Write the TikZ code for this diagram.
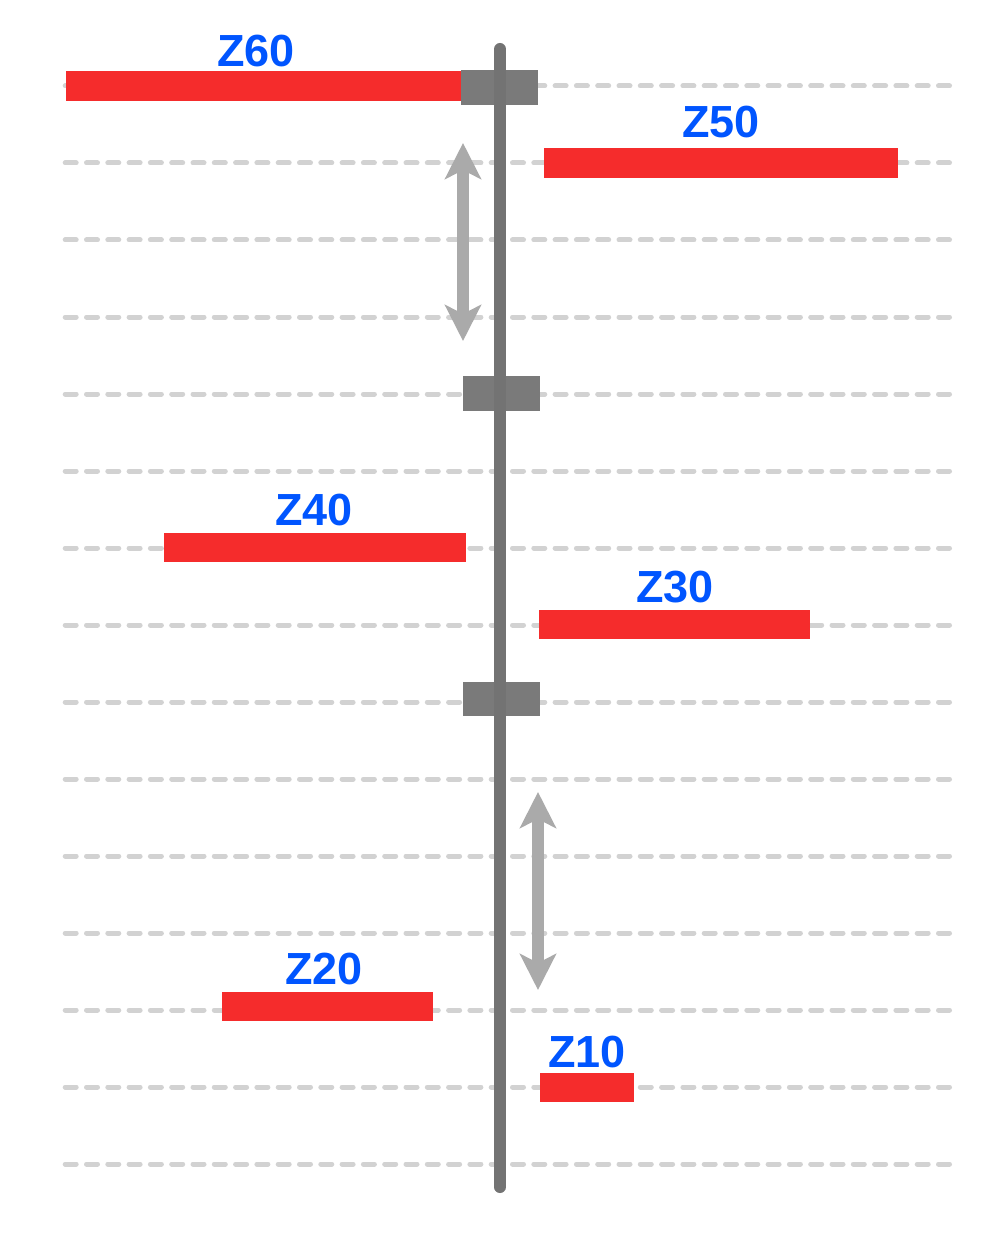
\documentclass[tikz,border=0pt]{standalone}
\usepackage{fontspec}
\setmainfont{Liberation Sans}
\usetikzlibrary{arrows.meta}
\definecolor{gridgray}{HTML}{D2D2D2}
\definecolor{polegray}{HTML}{737373}
\definecolor{blockgray}{HTML}{7A7A7A}
\definecolor{arrowgray}{HTML}{AAAAAA}
\definecolor{barred}{HTML}{F52C2C}
\definecolor{labelblue}{HTML}{0055FF}
\tikzset{
  gridline/.style={draw=gridgray, line width=5pt, line cap=round, dash pattern=on 11pt off 10.3pt},
  redbar/.style={fill=barred, draw=none},
  grayblock/.style={fill=blockgray, draw=none},
  pole/.style={draw=polegray, line width=12pt, line cap=round},
  dblarrow/.style={draw=arrowgray, line width=12pt,
    {Stealth[length=36pt, width=36pt, inset=9pt]}-{Stealth[length=36pt, width=36pt, inset=9pt]}},
  zlabel/.style={text=labelblue, inner sep=0pt, font=\bfseries\fontsize{45}{50}\selectfont}
}
\begin{document}
\begin{tikzpicture}[x=1pt,y=-1pt]
\useasboundingbox[fill=white] (0,0) rectangle (1000,1249);
% dashed level lines
\foreach \i in {0,...,14}{
  \draw[gridline] (65.2,{86+77*\i}) -- (949.6,{86+77*\i});
}
% red bars
\fill[redbar] (66,71) rectangle (462,101);
\fill[redbar] (544,148) rectangle (898,178);
\fill[redbar] (164,533) rectangle (466,562);
\fill[redbar] (539,610) rectangle (810,639);
\fill[redbar] (222,992) rectangle (433,1021);
\fill[redbar] (540,1073) rectangle (634,1102);
% gray blocks
\fill[grayblock] (461,70) rectangle (538,105);
\fill[grayblock] (463,376) rectangle (540,411);
\fill[grayblock] (463,682) rectangle (540,716);
% pole
\coordinate (poletop) at (500,49);
\coordinate (polebot) at (500,1187);
\draw[pole] (poletop) -- (polebot);
% double arrows
\coordinate (a1top) at (463,143);
\coordinate (a1bot) at (463,341);
\coordinate (a2top) at (538,792);
\coordinate (a2bot) at (538,990);
\draw[dblarrow] (a1top) -- (a1bot);
\draw[dblarrow] (a2top) -- (a2bot);
% labels
\node[zlabel] (z60) at (256,51) {Z60};
\node[zlabel] (z50) at (721,122) {Z50};
\node[zlabel] (z40) at (314,510) {Z40};
\node[zlabel] (z30) at (675,587) {Z30};
\node[zlabel] (z20) at (324,969) {Z20};
\node[zlabel] (z10) at (587,1052) {Z10};
\end{tikzpicture}
\end{document}
